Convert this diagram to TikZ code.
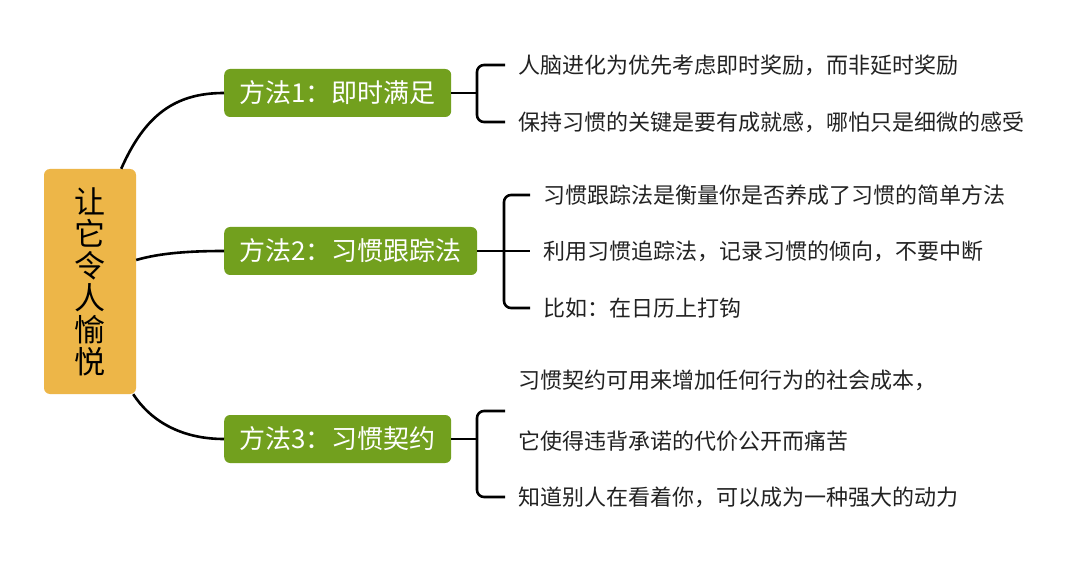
\documentclass[tikz,border=0pt]{standalone}
\usepackage{fontspec}
\setmainfont{Noto Sans CJK SC}
\definecolor{mgreen}{RGB}{114,160,30}
\definecolor{morange}{RGB}{237,182,72}
\definecolor{ltext}{RGB}{34,34,34}
\begin{document}
\begin{tikzpicture}[x=1pt,y=-1pt,
 rootbox/.style={fill=morange,rounded corners=6pt,minimum width=92pt,minimum height=225pt,inner sep=0pt,align=center,font=\fontsize{31}{32}\selectfont,text=black},
 methodbox/.style={fill=mgreen,rounded corners=6pt,minimum height=48pt,inner sep=0pt,text=white,font=\fontsize{26}{30}\selectfont,anchor=west},
 leaf/.style={anchor=west,inner xsep=13pt,inner ysep=0pt,text=ltext,font=\fontsize{22}{26}\selectfont,align=left},
 link/.style={line width=2.6pt,black},
 brace/.style={line width=2.6pt,black,rounded corners=7pt}]
\useasboundingbox (0,0) rectangle (1080,564);
\fill[white] (0,0) rectangle (1080,564);

\node[rootbox] (root) at (90,281.5) {让\\它\\令\\人\\愉\\悦};

\node[methodbox,minimum width=227pt] (m1) at (224,93) {方法1：即时满足};
\node[methodbox,minimum width=253pt] (m2) at (224,251) {方法2：习惯跟踪法};
\node[methodbox,minimum width=227pt] (m3) at (224,439) {方法3：习惯契约};

\draw[link] ([xshift=-15pt]root.north east) .. controls (145,115) and (175,93) .. (m1.west);
\draw[link] ([yshift=21.5pt]root.east) .. controls (160,253) and (190,251) .. (m2.west);
\draw[link] ([xshift=-3pt]root.south east) .. controls (150,420) and (180,439) .. (m3.west);

% method 1
\node[leaf] (l11) at (505,65) {人脑进化为优先考虑即时奖励，而非延时奖励};
\node[leaf] (l12) at (505,122) {保持习惯的关键是要有成就感，哪怕只是细微的感受};
\coordinate (j1) at (477,93);
\draw[link] (m1.east) -- (j1);
\draw[brace] (l11.west) -| (j1) |- (l12.west);

% method 2
\node[leaf] (l21) at (530,195) {习惯跟踪法是衡量你是否养成了习惯的简单方法};
\node[leaf] (l22) at (530,251) {利用习惯追踪法，记录习惯的倾向，不要中断};
\node[leaf] (l23) at (530,308) {比如：在日历上打钩};
\coordinate (j2) at (504,251);
\draw[link] (m2.east) -- (l22.west);
\draw[brace] (l21.west) -| (j2) |- (l23.west);

% method 3
\node[leaf,font=\fontsize{22}{61}\selectfont] (l31) at (505,411) {习惯契约可用来增加任何行为的社会成本，\\它使得违背承诺的代价公开而痛苦};
\node[leaf] (l32) at (505,497) {知道别人在看着你，可以成为一种强大的动力};
\coordinate (j3) at (477,439);
\draw[link] (m3.east) -- (j3);
\draw[brace] (l31.west) -| (j3) |- (l32.west);
\end{tikzpicture}
\end{document}
